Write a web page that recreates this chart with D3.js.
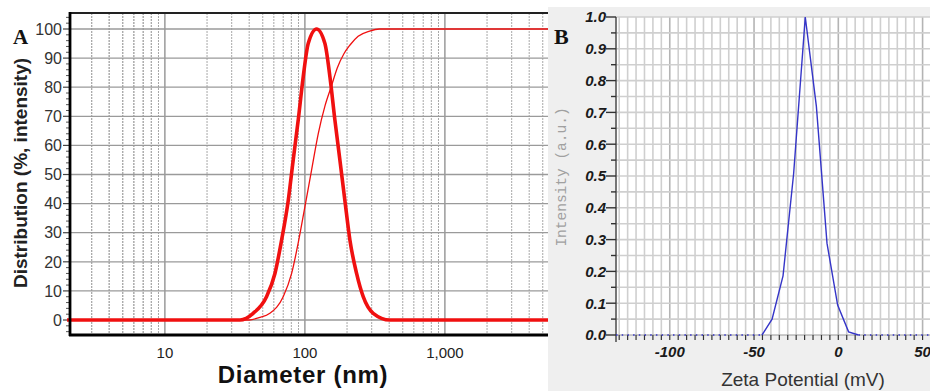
<!DOCTYPE html>
<html><head><meta charset="utf-8">
<script src="https://cdn.jsdelivr.net/npm/d3@7/dist/d3.min.js"></script>
<style>body{margin:0;background:#fff}svg{display:block}</style>
</head><body>
<script>
// ---- Panel A data: size distribution by intensity ----
const sizeDiam = [2, 34.4, 42.7, 53.2, 61.1, 68.2, 76.0, 82.5, 89.6, 97.3, 105.6, 121.2, 139, 150.9, 163.8, 177.8, 193.1, 209.6, 234, 260.9, 307.6, 404.6, 5500];
const sizeIntensity = [0, 0, 2.3, 8, 16, 27.5, 41, 55, 68.7, 83.6, 95, 100, 95, 83.6, 68.7, 55, 41, 27.5, 16, 8, 2.3, 0, 0];
const cumDiam = [2, 40, 47, 56.2, 70, 80.4, 89.6, 100, 111.6, 124.5, 139, 155, 170, 190, 210, 240, 290, 340, 5500];
const cumValue = [0, 0, 0.8, 2.3, 8, 16, 26.5, 38.9, 51.5, 64, 73.5, 80.5, 86.5, 91.5, 94.5, 97.5, 99.3, 100, 100];
const sizeYTicks = [0, 10, 20, 30, 40, 50, 60, 70, 80, 90, 100];
const sizeXTicks = [10, 100, 1000];
const sizeXTickLabels = ["10", "100", "1,000"];

// ---- Panel B data: zeta potential ----
const zetaMv = [-45.3, -39.3, -32.8, -26.5, -19.6, -13.0, -6.7, -0.4, 6.1, 12];
const zetaInt = [0, 0.05, 0.186, 0.508, 1.0, 0.718, 0.288, 0.094, 0.01, 0];
const zetaXTicks = [-100, -50, 0, 50];
const zetaYTicks = [0, 0.1, 0.2, 0.3, 0.4, 0.5, 0.6, 0.7, 0.8, 0.9, 1.0];

const W = 930, H = 391;
const svg = d3.select("body").append("svg").attr("width", W).attr("height", H);

// ================= Panel A =================
const ax = {l: 70, r: 548, t: 13, b: 335};
const xA = d3.scaleLog().domain([2.1, 5450]).range([ax.l, ax.r]);
const yA = d3.scaleLinear().domain([-5.15, 105.5]).range([ax.b, ax.t]);
const gA = svg.append("g");

// vertical log grid
const minor = [];
for (let dec = 1; dec <= 1000; dec *= 10) for (let k = 1; k <= 9; k++) {
  const v = k * dec; if (v >= xA.domain()[0] && v <= xA.domain()[1]) minor.push(v);
}
for (let k = 2; k <= 9; k++) if (k >= 2.1) minor.push(k);
gA.append("g").selectAll("line").data(minor.filter(v => !sizeXTicks.includes(v) && v > 2.1)).join("line")
  .attr("x1", d => xA(d)).attr("x2", d => xA(d)).attr("y1", ax.t).attr("y2", ax.b)
  .attr("stroke", "#a8a8a8").attr("stroke-width", 1).attr("stroke-dasharray", "2,1");
gA.append("g").selectAll("line").data(sizeXTicks).join("line")
  .attr("x1", d => xA(d)).attr("x2", d => xA(d)).attr("y1", ax.t).attr("y2", ax.b)
  .attr("stroke", "#8a8a8a").attr("stroke-width", 1.3);
// horizontal grid
gA.append("g").selectAll("line").data(sizeYTicks).join("line")
  .attr("x1", ax.l).attr("x2", ax.r).attr("y1", d => yA(d)).attr("y2", d => yA(d))
  .attr("stroke", "#9a9a9a").attr("stroke-width", 1.3);

// y axis ticks
const yMinor = d3.range(-4, 105, 2).filter(v => v % 10 !== 0);
gA.append("g").selectAll("line").data(yMinor).join("line")
  .attr("x1", ax.l - 4).attr("x2", ax.l).attr("y1", d => yA(d)).attr("y2", d => yA(d))
  .attr("stroke", "#555").attr("stroke-width", 1);
gA.append("g").selectAll("line").data(sizeYTicks).join("line")
  .attr("x1", ax.l - 7).attr("x2", ax.l).attr("y1", d => yA(d)).attr("y2", d => yA(d))
  .attr("stroke", "#444").attr("stroke-width", 1.2);
gA.append("g").selectAll("text").data(sizeYTicks).join("text")
  .attr("x", ax.l - 8).attr("y", d => yA(d)).attr("dy", "0.36em")
  .attr("text-anchor", "end").attr("font-family", "Arial, 'Liberation Sans', sans-serif")
  .attr("font-size", 16).attr("fill", "#333").text(d => d);
gA.append("g").selectAll("text").data(sizeXTicks).join("text")
  .attr("x", d => xA(d)).attr("y", 358)
  .attr("text-anchor", "middle").attr("font-family", "Arial, 'Liberation Sans', sans-serif")
  .attr("font-size", 15).attr("fill", "#222").text((d, i) => sizeXTickLabels[i]);

// curves
const lineSize = d3.line().x((d, i) => xA(sizeDiam[i])).y(d => yA(d)).curve(d3.curveMonotoneX);
gA.append("path").attr("d", lineSize(sizeIntensity)).attr("fill", "none")
  .attr("stroke", "#f01010").attr("stroke-width", 3.6).attr("stroke-linejoin", "round");
const lineCum = d3.line().x((d, i) => xA(cumDiam[i])).y(d => yA(d)).curve(d3.curveMonotoneX);
gA.append("path").attr("d", lineCum(cumValue)).attr("fill", "none")
  .attr("stroke", "#f01010").attr("stroke-width", 1.3);

// frame
gA.append("line").attr("x1", ax.l).attr("x2", ax.r).attr("y1", ax.t).attr("y2", ax.t).attr("stroke", "#222").attr("stroke-width", 2);
gA.append("line").attr("x1", ax.l - 1).attr("x2", ax.r).attr("y1", ax.b).attr("y2", ax.b).attr("stroke", "#000").attr("stroke-width", 2.8);
gA.append("line").attr("x1", ax.l).attr("x2", ax.l).attr("y1", ax.t - 1).attr("y2", ax.b + 1).attr("stroke", "#000").attr("stroke-width", 2.8);

// labels
gA.append("text").attr("transform", "translate(27,173) rotate(-90)").attr("text-anchor", "middle")
  .attr("font-family", "Arial, 'Liberation Sans', sans-serif").attr("font-weight", "bold")
  .attr("font-size", 19).attr("fill", "#222").text("Distribution (%, intensity)");
gA.append("text").attr("x", 303).attr("y", 383).attr("text-anchor", "middle")
  .attr("font-family", "Arial, 'Liberation Sans', sans-serif").attr("font-weight", "bold")
  .attr("font-size", 24).attr("letter-spacing", 0.7).attr("fill", "#111").text("Diameter (nm)");
gA.append("text").attr("x", 13).attr("y", 44)
  .attr("font-family", "'Liberation Serif', 'Times New Roman', serif").attr("font-weight", "bold")
  .attr("font-size", 21).attr("fill", "#111").text("A");

// ================= Panel B =================
const bx = {l: 616, r: 930, t: 17, b: 335};
const gB = svg.append("g");
gB.append("rect").attr("x", 548).attr("y", 7).attr("width", W - 548).attr("height", H - 7).attr("fill", "#efefef");
gB.append("rect").attr("x", bx.l).attr("y", bx.t).attr("width", bx.r - bx.l).attr("height", bx.b - bx.t).attr("fill", "#fff");
const xB = d3.scaleLinear().domain([-131.9, 54.4]).range([bx.l, bx.r]);
const yB = d3.scaleLinear().domain([0, 1]).range([bx.b, bx.t]);

const xGrid = d3.range(-130, 55, 5);
gB.append("g").selectAll("line").data(xGrid).join("line")
  .attr("x1", d => xB(d)).attr("x2", d => xB(d)).attr("y1", bx.t).attr("y2", bx.b)
  .attr("stroke", d => d % 50 === 0 ? "#b4b4b4" : "#cfcfcf").attr("stroke-width", 1.6);
const yGrid = d3.range(0.05, 1.001, 0.05);
gB.append("g").selectAll("line").data(yGrid).join("line")
  .attr("x1", bx.l).attr("x2", bx.r).attr("y1", d => yB(d)).attr("y2", d => yB(d))
  .attr("stroke", "#cfcfcf").attr("stroke-width", 1.6);

// axes
gB.append("line").attr("x1", bx.l).attr("x2", bx.r).attr("y1", bx.b).attr("y2", bx.b).attr("stroke", "#999").attr("stroke-width", 1);
gB.append("g").selectAll("line").data(xGrid).join("line")
  .attr("x1", d => xB(d)).attr("x2", d => xB(d)).attr("y1", bx.b).attr("y2", bx.b + 5)
  .attr("stroke", "#333").attr("stroke-width", 1.2);
gB.append("line").attr("x1", bx.l).attr("x2", bx.l).attr("y1", bx.t).attr("y2", bx.b + 7).attr("stroke", "#555").attr("stroke-width", 1.6);
gB.append("g").selectAll("line").data(d3.range(0.05, 1, 0.1)).join("line")
  .attr("x1", bx.l - 5).attr("x2", bx.l).attr("y1", d => yB(d)).attr("y2", d => yB(d))
  .attr("stroke", "#333").attr("stroke-width", 1.4);
gB.append("g").selectAll("line").data(zetaYTicks).join("line")
  .attr("x1", bx.l - 10).attr("x2", bx.l).attr("y1", d => yB(d)).attr("y2", d => yB(d))
  .attr("stroke", "#333").attr("stroke-width", 1.4);
gB.append("g").selectAll("text").data(zetaYTicks).join("text")
  .attr("x", bx.l - 10).attr("y", d => yB(d)).attr("dy", "0.36em").attr("text-anchor", "end")
  .attr("font-family", "Arial, 'Liberation Sans', sans-serif").attr("font-weight", "bold").attr("font-style", "italic")
  .attr("font-size", 15).attr("fill", "#1a1a1a").text(d => d3.format(".1f")(d));
gB.append("g").selectAll("text").data(zetaXTicks).join("text")
  .attr("x", d => xB(d)).attr("y", 357).attr("text-anchor", "middle")
  .attr("font-family", "Arial, 'Liberation Sans', sans-serif").attr("font-weight", "bold").attr("font-style", "italic")
  .attr("font-size", 15).attr("fill", "#1a1a1a").text(d => d);

// zero dotted baseline
gB.append("line").attr("x1", xB(-131.9)).attr("x2", xB(zetaMv[0])).attr("y1", yB(0)).attr("y2", yB(0))
  .attr("stroke", "#3535c8").attr("stroke-width", 1.4).attr("stroke-dasharray", "1.5,4.2");
gB.append("line").attr("x1", xB(zetaMv[zetaMv.length - 1])).attr("x2", xB(54.4)).attr("y1", yB(0)).attr("y2", yB(0))
  .attr("stroke", "#3535c8").attr("stroke-width", 1.4).attr("stroke-dasharray", "1.5,4.2");
const lineZ = d3.line().x((d, i) => xB(zetaMv[i])).y(d => yB(d));
gB.append("path").attr("d", lineZ(zetaInt)).attr("fill", "none").attr("stroke", "#3535c8").attr("stroke-width", 1.4);

gB.append("text").attr("transform", "translate(566,177) rotate(-90)").attr("text-anchor", "middle")
  .attr("font-family", "'Liberation Mono', 'Courier New', monospace").attr("font-size", 14.5)
  .attr("fill", "#a0a0a0").text("Intensity (a.u.)");
gB.append("text").attr("x", 803).attr("y", 386).attr("text-anchor", "middle")
  .attr("font-family", "Arial, 'Liberation Sans', sans-serif").attr("font-size", 19)
  .attr("fill", "#333").text("Zeta Potential (mV)");
gB.append("text").attr("x", 554).attr("y", 44)
  .attr("font-family", "'Liberation Serif', 'Times New Roman', serif").attr("font-weight", "bold")
  .attr("font-size", 22).attr("fill", "#111").text("B");
</script>
</body></html>
